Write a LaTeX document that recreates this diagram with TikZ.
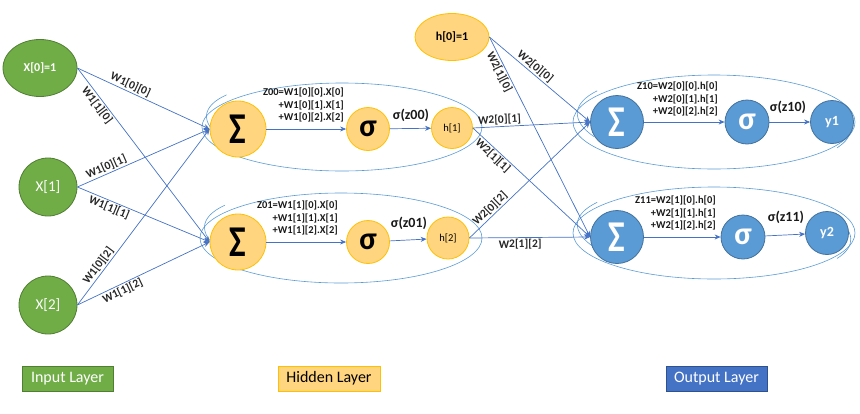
\documentclass[tikz,border=0pt]{standalone}
\usepackage{fontspec}
\usepackage{graphicx}
\setmainfont{Carlito}
\usetikzlibrary{arrows.meta,shapes.geometric}
\definecolor{grn}{HTML}{70AD47}
\definecolor{grnb}{HTML}{507E32}
\definecolor{org}{HTML}{FFD580}
\definecolor{orgb}{HTML}{FFC000}
\definecolor{blu}{HTML}{5B9BD5}
\definecolor{blub}{HTML}{41719C}
\definecolor{lnk}{HTML}{4472C4}
\definecolor{dblu}{HTML}{4472C4}
\definecolor{dblub}{HTML}{2F528F}
\newcommand{\bigsum}{\scalebox{0.8}[1]{\fontsize{44}{44}\selectfont\bfseries Σ}}
\newcommand{\bigsig}{\fontsize{32}{32}\selectfont\bfseries σ}
\begin{document}
\begin{tikzpicture}[x=1pt,y=-1pt,
 innode/.style={circle, fill=grn, draw=grnb, line width=0.8pt, minimum size=58pt, inner sep=0pt, text=white, font=\fontsize{15}{15}\selectfont},
 hnode/.style={circle, fill=org, draw=orgb, line width=0.8pt, inner sep=0pt},
 onode/.style={circle, fill=blu, draw=blub, line width=0.8pt, inner sep=0pt, text=white},
 grp/.style={ellipse, draw=blu, line width=0.6pt, inner sep=0pt},
 grparc/.style={draw=blu, line width=0.6pt},
 conn/.style={draw=lnk, line width=0.7pt, -{Stealth[length=6pt,width=5pt]}},
 wlab/.style={font=\fontsize{11.5}{11.5}\selectfont\bfseries, text=black!85, sloped, inner sep=1.5pt},
 zlab/.style={font=\fontsize{10.5}{12.5}\selectfont\bfseries, align=right, inner sep=0pt, text=black!90},
 slab/.style={font=\fontsize{14}{14}\selectfont\bfseries, inner sep=0pt, text=black!90},
 legend/.style={minimum height=25pt, inner sep=0pt, font=\fontsize{16}{16}\selectfont, line width=0.8pt}
]
\useasboundingbox (0,0) rectangle (860,413);

% group outlines
\node[grp, minimum width=280pt, minimum height=88pt] (g1) at (342,127) {};
\draw[grparc, rotate around={-5:(342,127)}] (342,127) ++(150:136 and 44) arc[start angle=150, end angle=210, x radius=136, y radius=44];
\node[grp, minimum width=282pt, minimum height=90pt] (g2) at (341,238) {};
\draw[grparc, rotate around={-5:(341,238)}] (341,238) ++(150:137 and 45) arc[start angle=150, end angle=210, x radius=137, y radius=45];
\node[grp, minimum width=282pt, minimum height=94pt] (g3) at (714,122) {};
\draw[grparc, rotate around={-4:(714,122)}] (714,122) ++(150:137 and 46) arc[start angle=150, end angle=210, x radius=137, y radius=46];
\draw[grparc, rotate around={-3:(714,122)}] (714,122) ++(-30:137 and 46) arc[start angle=-30, end angle=25, x radius=137, y radius=46];
\node[grp, minimum width=282pt, minimum height=92pt] (g4) at (714,233) {};
\draw[grparc, rotate around={-4:(714,233)}] (714,233) ++(150:137 and 45) arc[start angle=150, end angle=210, x radius=137, y radius=45];
\draw[grparc, rotate around={-3:(714,233)}] (714,233) ++(-30:137 and 45) arc[start angle=-30, end angle=25, x radius=137, y radius=45];

% input layer
\node[innode, ellipse, minimum width=74pt, minimum height=57pt, font=\fontsize{12}{12}\selectfont\bfseries] (x0) at (40,68) {X[0]=1};
\node[innode] (x1) at (48,187) {X[1]};
\node[innode] (x2) at (48,305) {X[2]};

% hidden layer
\node[hnode, ellipse, minimum width=74pt, minimum height=47pt, font=\fontsize{12}{12}\selectfont\bfseries] (h0) at (452,37) {h[0]=1};
\node[hnode, minimum size=56pt] (s1) at (238,129) {\bigsum};
\node[hnode, minimum size=43pt] (a1) at (368,129) {\bigsig};
\node[hnode, minimum size=41pt, font=\fontsize{10.5}{10.5}\selectfont] (h1) at (452,128) {h[1]};
\node[hnode, minimum size=56pt] (s2) at (238,242) {\bigsum};
\node[hnode, minimum size=43pt] (a2) at (368,242) {\bigsig};
\node[hnode, minimum size=42pt, font=\fontsize{10.5}{10.5}\selectfont] (h2) at (448,238) {h[2]};

% output layer
\node[onode, minimum size=53pt] (o1) at (617,122) {\bigsum};
\node[onode, minimum size=44pt] (b1) at (747,122) {\bigsig};
\node[onode, minimum size=43pt, font=\fontsize{14}{14}\selectfont\bfseries] (y1) at (832,122) {y1};
\node[onode, minimum size=53pt] (o2) at (617,237) {\bigsum};
\node[onode, minimum size=44pt] (b2) at (743,237) {\bigsig};
\node[onode, minimum size=43pt, font=\fontsize{14}{14}\selectfont\bfseries] (y2) at (827,233) {y2};

% formula labels
\node[zlab, anchor=east] (z00) at (344,105) {Z00=W1[0][0].X[0]\\+W1[0][1].X[1]\\+W1[0][2].X[2]};
\node[zlab, anchor=east] (z01) at (338,218) {Z01=W1[1][0].X[0]\\+W1[1][1].X[1]\\+W1[1][2].X[2]};
\node[zlab, anchor=east] (z10) at (718,99) {Z10=W2[0][0].h[0]\\+W2[0][1].h[1]\\+W2[0][2].h[2]};
\node[zlab, anchor=east] (z11) at (716,213) {Z11=W2[1][0].h[0]\\+W2[1][1].h[1]\\+W2[1][2].h[2]};
\node[slab] (t00) at (411,115) {σ(z00)};
\node[slab] (t01) at (409,223) {σ(z01)};
\node[slab] (t10) at (788,107) {σ(z10)};
\node[slab] (t11) at (786,217) {σ(z11)};

% input -> hidden
\draw[conn] (x0.east) -- node[wlab, above, pos=.38]{W1[0][0]} (s1.west);
\draw[conn] (x0.east) -- node[wlab, below, pos=.19]{W1[1][0]} (s2.west);
\draw[conn] (x1.east) -- node[wlab, above, pos=.24]{W1[0][1]} (s1.west);
\draw[conn] (x1.east) -- node[wlab, below, pos=.26]{W1[1][1]} (s2.west);
\draw[conn] (x2.east) -- node[wlab, above, pos=.2]{W1[0][2]} (s1.west);
\draw[conn] (x2.east) -- node[wlab, below, pos=.32]{W1[1][2]} (s2.west);

% within hidden
\draw[conn] (s1) -- (a1);
\draw[conn] (a1) -- (h1);
\draw[conn] (s2) -- (a2);
\draw[conn] (a2) -- (h2);

% hidden -> output
\draw[conn] (h0.east) -- node[wlab, above, pos=.41]{W2[0][0]} (o1.west);
\draw[conn] (h0.east) -- node[wlab, below, pos=.16]{W2[1][0]} (o2.west);
\draw[conn] (h1.east) -- node[wlab, above, pos=.23]{W2[0][1]} (o1.west);
\draw[conn] (h1.east) -- node[wlab, below, pos=.21]{W2[1][1]} (o2.west);
\draw[conn] (h2.east) -- node[wlab, above, pos=.21]{W2[0][2]} (o1.west);
\draw[conn] (h2.east) -- node[wlab, below, pos=.42]{W2[1][2]} (o2.west);

% within output
\draw[conn] (o1) -- (b1);
\draw[conn] (b1) -- (y1);
\draw[conn] (o2) -- (b2);
\draw[conn] (b2) -- (y2);

% legend
\node[legend, fill=grn, draw=grnb, text=white, minimum width=91pt] (li) at (67.5,378.5) {Input Layer};
\node[legend, fill=org, draw=orgb, minimum width=102pt] (lh) at (329,378.5) {Hidden Layer};
\node[legend, fill=dblu, draw=dblub, text=white, minimum width=101pt] (lo) at (716.5,378.5) {Output Layer};
\end{tikzpicture}
\end{document}
